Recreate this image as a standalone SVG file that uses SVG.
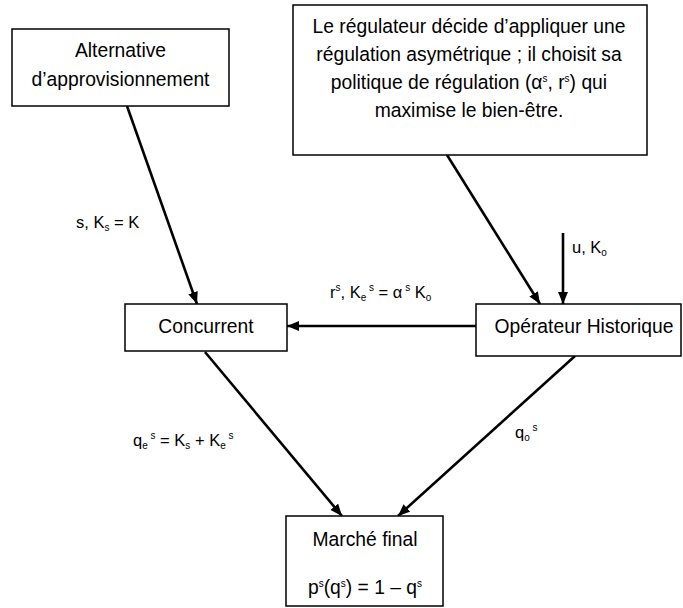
<svg xmlns="http://www.w3.org/2000/svg" width="683" height="608" viewBox="0 0 683 608">
<defs>
<style>
.box{fill:#fff;stroke:#000;stroke-width:1.5}
.t{font-family:"Liberation Sans",Arial,sans-serif;font-size:19.3px;fill:#000}
.c{text-anchor:middle}
.lbl{font-family:"Liberation Sans",Arial,sans-serif;font-size:16.5px;fill:#000}
.sm{font-size:10px}
.e{fill:none;stroke:#000;stroke-width:2.6}
</style>
<marker id="ah" viewBox="0 0 12 10" refX="12" refY="5" markerWidth="12" markerHeight="10" markerUnits="userSpaceOnUse" orient="auto">
<path d="M0,0 L12,5 L0,10 z" fill="#000"/>
</marker>
</defs>
<rect width="683" height="608" fill="#fff"/>
<g id="connectors">
<line class="e" x1="127" y1="106" x2="197" y2="304" marker-end="url(#ah)"/>
<line class="e" x1="447" y1="155" x2="540" y2="304" marker-end="url(#ah)"/>
<line class="e" x1="563" y1="233" x2="563" y2="304" marker-end="url(#ah)"/>
<line class="e" x1="476" y1="326" x2="287" y2="326" stroke-width="3" marker-end="url(#ah)"/>
<line class="e" x1="205" y1="352" x2="342" y2="516" marker-end="url(#ah)"/>
<line class="e" x1="575" y1="356" x2="398" y2="516" marker-end="url(#ah)"/>
<text class="lbl" x="76" y="228">s, K<tspan class="sm" dy="3">s</tspan><tspan dy="-3"> = K</tspan></text>
<text class="lbl" x="572" y="253">u, K<tspan class="sm" dy="3">o</tspan></text>
<text class="lbl" x="330" y="298">r<tspan class="sm" dy="-7">s</tspan><tspan dy="7">, K</tspan><tspan class="sm" dy="3">e</tspan><tspan class="sm" dy="-10"> s</tspan><tspan dy="7"> = α</tspan><tspan class="sm" dy="-7"> s</tspan><tspan dy="7"> K</tspan><tspan class="sm" dy="3">o</tspan></text>
<text class="lbl" x="133" y="446">q<tspan class="sm" dy="3">e</tspan><tspan class="sm" dy="-10"> s</tspan><tspan dy="7"> = K</tspan><tspan class="sm" dy="3">s</tspan><tspan dy="-3"> + K</tspan><tspan class="sm" dy="3">e</tspan><tspan class="sm" dy="-10"> s</tspan></text>
<text class="lbl" x="515" y="438">q<tspan class="sm" dy="3">o</tspan><tspan class="sm" dy="-10"> s</tspan></text>
</g>
<g id="alternative">
<rect class="box" x="12" y="29" width="217" height="77"/>
<text class="t c" x="120.5" y="57">Alternative</text>
<text class="t c" x="120.5" y="86">d’approvisionnement</text>
</g>
<g id="regulateur">
<rect class="box" x="293" y="5" width="354" height="150"/>
<text class="t c" x="469" y="33">Le régulateur décide d’appliquer une</text>
<text class="t c" x="469" y="61">régulation asymétrique ; il choisit sa</text>
<text class="t c" x="469" y="89">politique de régulation (α<tspan class="sm" dy="-7">s</tspan><tspan dy="7">, r</tspan><tspan class="sm" dy="-7">s</tspan><tspan dy="7">) qui</tspan></text>
<text class="t c" x="469" y="117">maximise le bien-être.</text>
</g>
<g id="concurrent">
<rect class="box" x="125" y="304" width="162" height="47"/>
<text class="t c" x="206" y="333">Concurrent</text>
</g>
<g id="operateur">
<rect class="box" x="476" y="304" width="205" height="52"/>
<text class="t c" x="584" y="333">Opérateur Historique</text>
</g>
<g id="marche">
<rect class="box" x="286" y="516" width="157" height="90"/>
<text class="t c" x="365" y="546">Marché final</text>
<text class="t c" x="365" y="594">p<tspan class="sm" dy="-7">s</tspan><tspan dy="7">(q</tspan><tspan class="sm" dy="-7">s</tspan><tspan dy="7">) = 1 – q</tspan><tspan class="sm" dy="-7">s</tspan></text>
</g>
</svg>
